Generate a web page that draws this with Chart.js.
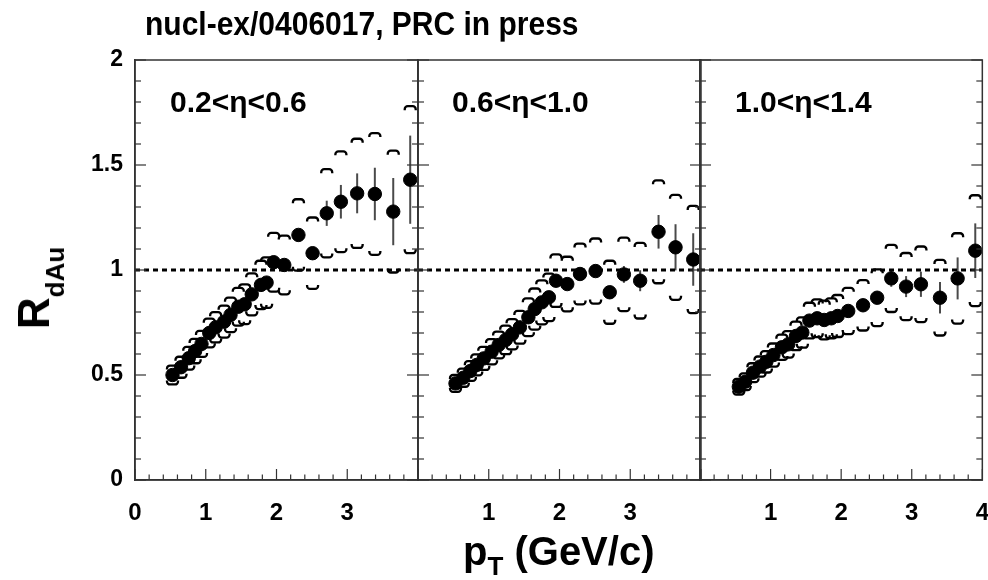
<!DOCTYPE html>
<html><head><meta charset="utf-8">
<script src="https://cdn.jsdelivr.net/npm/chart.js@4.4.1/dist/chart.umd.min.js"></script>
<style>
html,body{margin:0;padding:0;background:#fff;width:988px;height:580px;overflow:hidden;font-family:"Liberation Sans",Arial,Helvetica,sans-serif;}
canvas{position:absolute;top:0;}
.t{position:absolute;font-weight:bold;color:#000;white-space:nowrap;line-height:1;}
</style></head><body>
<div id="holder"></div>
<div class="t" style="left:145px;top:9px;font-size:30px;transform-origin:0 50%;transform:scaleY(1.08);">nucl-ex/0406017, PRC in press</div>
<div class="t" id="lab1" style="left:170px;top:87px;font-size:30px;"></div>
<div class="t" id="lab2" style="left:452px;top:87px;font-size:30px;"></div>
<div class="t" id="lab3" style="left:735px;top:87px;font-size:30px;"></div>
<div class="t" style="left:34px;top:288px;transform:translate(-50%,-50%) rotate(-90deg);"><span style="font-size:44px">R</span><span style="font-size:26px;position:relative;top:15px">dAu</span></div>
<div class="t" style="left:463px;top:531px;"><span style="font-size:40px">p</span><span style="font-size:26px;position:relative;top:10px">T</span><span style="font-size:40px"> (GeV/c)</span></div>
<script>
// ---- data ----
const panelLabels = ['0.2<\u03b7<0.6', '0.6<\u03b7<1.0', '1.0<\u03b7<1.4'];

const pt1   = [0.53,0.65,0.76,0.85,0.94,1.05,1.14,1.26,1.35,1.46,1.55,1.65,1.78,1.86,1.96,2.11,2.31,2.51,2.71,2.91,3.14,3.39,3.65,3.89];
const r1    = [0.50,0.537,0.58,0.614,0.648,0.70,0.727,0.754,0.786,0.825,0.837,0.884,0.929,0.94,1.037,1.024,1.167,1.08,1.27,1.325,1.365,1.362,1.278,1.43];
const stat1 = [0.01,0.01,0.01,0.01,0.01,0.01,0.01,0.01,0.01,0.01,0.01,0.012,0.012,0.015,0.02,0.02,0.025,0.03,0.06,0.08,0.095,0.125,0.16,0.21];
const sys1  = [0.045,0.05,0.054,0.058,0.062,0.068,0.072,0.076,0.082,0.09,0.095,0.1,0.115,0.12,0.14,0.14,0.17,0.17,0.21,0.24,0.26,0.29,0.29,0.35];

const pt2   = [0.53,0.64,0.74,0.83,0.93,1.04,1.14,1.24,1.33,1.44,1.56,1.65,1.75,1.85,1.95,2.11,2.29,2.51,2.71,2.91,3.14,3.40,3.64,3.89];
const r2    = [0.46,0.487,0.519,0.548,0.579,0.611,0.643,0.667,0.694,0.727,0.775,0.814,0.846,0.87,0.949,0.933,0.981,0.995,0.894,0.979,0.949,1.182,1.108,1.05];
const stat2 = [0.01,0.01,0.01,0.01,0.01,0.01,0.01,0.01,0.012,0.012,0.012,0.012,0.012,0.012,0.015,0.015,0.02,0.025,0.03,0.04,0.05,0.08,0.11,0.125];
const sys2  = [0.04,0.043,0.047,0.05,0.055,0.06,0.064,0.068,0.072,0.078,0.09,0.098,0.105,0.113,0.125,0.13,0.145,0.155,0.15,0.175,0.18,0.245,0.25,0.255];

const pt3   = [0.55,0.64,0.75,0.85,0.94,1.04,1.16,1.25,1.36,1.45,1.55,1.66,1.76,1.86,1.95,2.10,2.31,2.51,2.71,2.92,3.13,3.40,3.65,3.90];
const r3    = [0.444,0.468,0.511,0.54,0.563,0.595,0.632,0.646,0.686,0.702,0.759,0.77,0.762,0.77,0.781,0.805,0.832,0.868,0.96,0.921,0.932,0.868,0.96,1.092];
const stat3 = [0.01,0.01,0.01,0.01,0.01,0.01,0.01,0.01,0.01,0.01,0.01,0.01,0.01,0.01,0.012,0.012,0.015,0.02,0.04,0.05,0.06,0.075,0.10,0.13];
const sys3  = [0.037,0.04,0.045,0.048,0.051,0.055,0.06,0.063,0.068,0.072,0.085,0.09,0.092,0.095,0.10,0.11,0.12,0.135,0.16,0.16,0.18,0.18,0.215,0.264];

const xTickValues = [0,1,2,3,4];
const xLabels1 = ['0','1','2','3'];
const xLabels2 = ['1','2','3'];
const xLabels3 = ['1','2','3','4'];
const yTickValues = [0,0.5,1,1.5,2];
const yLabels = ['0','0.5','1','1.5','2'];
const unity = [0,4];

// ---- drawing ----
const FONT = '"Liberation Sans", Arial, Helvetica, sans-serif';
document.getElementById('lab1').textContent = panelLabels[0];
document.getElementById('lab2').textContent = panelLabels[1];
document.getElementById('lab3').textContent = panelLabels[2];

const framePlugin = {
  id: 'frame',
  beforeDatasetsDraw(chart) {
    const ds = chart.data.datasets[1];
    const xs = chart.scales.x, ys = chart.scales.y, ctx = chart.ctx;
    ctx.save();
    ctx.strokeStyle = '#4a4a4a'; ctx.lineWidth = 2;
    ds.data.forEach((p, i) => {
      const s = ds.stat[i];
      const x = xs.getPixelForValue(p.x);
      ctx.beginPath();
      ctx.moveTo(x, ys.getPixelForValue(p.y - s));
      ctx.lineTo(x, ys.getPixelForValue(p.y + s));
      ctx.stroke();
    });
    ctx.restore();
  },
  afterDatasetsDraw(chart) {
    const ds = chart.data.datasets[1];
    const xs = chart.scales.x, ys = chart.scales.y, ctx = chart.ctx;
    ctx.save();
    ctx.strokeStyle = '#000'; ctx.lineWidth = 2.3;
    const hw = 5.5, leg = 4, rr = 3;
    ds.data.forEach((p, i) => {
      const s = ds.sys[i];
      const x = xs.getPixelForValue(p.x);
      const yu = ys.getPixelForValue(p.y + s);
      const yl = ys.getPixelForValue(p.y - s);
      ctx.beginPath();
      ctx.moveTo(x - hw, yu + leg);
      ctx.arcTo(x - hw, yu, x, yu, rr);
      ctx.arcTo(x + hw, yu, x + hw, yu + leg, rr);
      ctx.lineTo(x + hw, yu + leg);
      ctx.stroke();
      ctx.beginPath();
      ctx.moveTo(x - hw, yl - leg);
      ctx.arcTo(x - hw, yl, x, yl, rr);
      ctx.arcTo(x + hw, yl, x + hw, yl - leg, rr);
      ctx.lineTo(x + hw, yl - leg);
      ctx.stroke();
    });
    ctx.restore();
  },
  afterDraw(chart) {
    const { ctx, chartArea: a, scales: { x, y } } = chart;
    ctx.save();
    ctx.strokeStyle = '#333'; ctx.lineWidth = 1.5;
    ctx.strokeRect(a.left, a.top, a.right - a.left, a.bottom - a.top);
    ctx.lineWidth = 1.2;
    for (let k = 0; k <= 20; k++) {
      const v = k * 0.2;
      const px = x.getPixelForValue(v);
      const len = (k % 5 === 0) ? 11 : 5.5;
      ctx.beginPath(); ctx.moveTo(px, a.bottom); ctx.lineTo(px, a.bottom - len); ctx.stroke();
    }
    for (let k = 0; k <= 20; k++) {
      const v = k * 0.1;
      const py = y.getPixelForValue(v);
      const len = (k % 5 === 0) ? 11 : 6;
      ctx.beginPath(); ctx.moveTo(a.left, py); ctx.lineTo(a.left + len, py); ctx.stroke();
      ctx.beginPath(); ctx.moveTo(a.right, py); ctx.lineTo(a.right - len, py); ctx.stroke();
    }
    ctx.restore();
  }
};

function makeChart(canvas, pt, r, stat, sys, xLabels, showY, yWidth) {
  return new Chart(canvas, {
    type: 'scatter',
    data: {
      datasets: [
        { type: 'line', data: unity.map(v => ({ x: v, y: 1 })), borderColor: '#000', borderWidth: 3,
          borderDash: [5, 4], pointRadius: 0, fill: false, order: 2 },
        { data: pt.map((v, i) => ({ x: v, y: r[i] })), backgroundColor: '#000', borderColor: '#000',
          pointRadius: 6.7, pointHoverRadius: 6.7, stat: stat, sys: sys, order: 1 }
      ]
    },
    options: {
      responsive: false, animation: false, events: [],
      layout: { padding: { top: 60, right: 0, left: 0, bottom: 0 } },
      plugins: { legend: { display: false }, tooltip: { enabled: false } },
      scales: {
        x: {
          type: 'linear', min: 0, max: 4,
          afterFit(s) { s.height = 80; },
          afterBuildTicks(s) { s.ticks = xTickValues.map(v => ({ value: v })); },
          ticks: { autoSkip: false, maxRotation: 0, padding: 11, color: '#000',
            font: { family: FONT, size: 24, weight: 'bold' },
            callback: v => xLabels.includes(String(v)) ? String(v) : '' },
          grid: { display: false },
          border: { display: true, color: '#333', width: 1.5 }
        },
        y: {
          min: 0, max: 2,
          afterFit(s) { s.width = yWidth; },
          afterBuildTicks(s) { s.ticks = yTickValues.map(v => ({ value: v })); },
          ticks: { display: showY, padding: 4, color: '#000',
            font: { family: FONT, size: 23, weight: 'bold' },
            callback: v => yLabels[yTickValues.indexOf(v)] },
          grid: { display: false },
          border: { display: true, color: '#333', width: 1.5 }
        }
      }
    },
    plugins: [framePlugin]
  });
}

// place each panel so that its plot area lands on the target page coordinates
function buildPanel(targetLeft, targetRight, pt, r, stat, sys, xLabels, showY, yWidth) {
  const holder = document.getElementById('holder');
  let left = targetLeft - yWidth, width = Math.round(targetRight - targetLeft + yWidth + 20);
  let chart = null, canvas = null;
  for (let it = 0; it < 5; it++) {
    if (chart) { chart.destroy(); canvas.remove(); }
    canvas = document.createElement('canvas');
    canvas.width = width; canvas.height = 560;
    canvas.style.left = left + 'px';
    holder.appendChild(canvas);
    chart = makeChart(canvas, pt, r, stat, sys, xLabels, showY, yWidth);
    const a = chart.chartArea;
    const dl = targetLeft - (left + a.left);
    const dw = (targetRight - targetLeft) - (a.right - a.left);
    if (Math.abs(dl) < 0.4 && Math.abs(dw) < 0.6) break;
    left += dl; width = Math.round(width + dw);
  }
}

buildPanel(135, 417.5, pt1, r1, stat1, sys1, xLabels1, true, 135);
buildPanel(417.5, 700, pt2, r2, stat2, sys2, xLabels2, false, 7);
buildPanel(700, 982, pt3, r3, stat3, sys3, xLabels3, false, 7);
</script>
</body></html>
